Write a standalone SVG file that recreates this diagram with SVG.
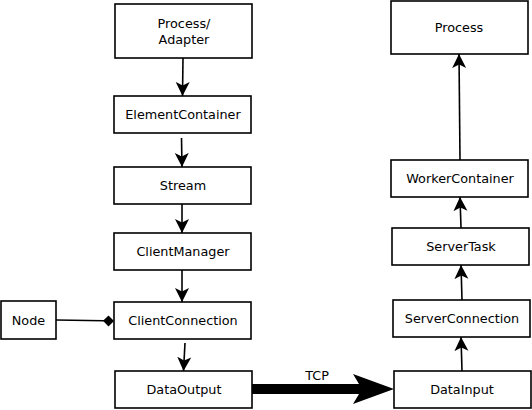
<svg xmlns="http://www.w3.org/2000/svg" width="532" height="410" viewBox="0 0 532 410">
<defs>
<style>
.box{fill:#fff;stroke:#000;stroke-width:1.6}
.lbl{font-family:"DejaVu Sans",sans-serif;font-size:12.8px;fill:#000;text-anchor:middle}
.ln{stroke:#000;stroke-width:1.6;fill:none}
</style>
<marker id="ah2" viewBox="0 0 16 16" refX="16" refY="8" markerWidth="14" markerHeight="16" markerUnits="userSpaceOnUse" orient="auto">
<path d="M0,0 L16,8 L0,16 L4,8 Z" fill="#000"/>
</marker>
</defs>
<g id="connectors">
<line class="ln" x1="183" y1="58" x2="182.5" y2="96" marker-end="url(#ah2)"/>
<line class="ln" x1="181.5" y1="138" x2="182" y2="167" marker-end="url(#ah2)"/>
<line class="ln" x1="182" y1="204" x2="182" y2="233" marker-end="url(#ah2)"/>
<line class="ln" x1="182" y1="270" x2="182" y2="302" marker-end="url(#ah2)"/>
<line class="ln" x1="185" y1="343" x2="183.5" y2="371" marker-end="url(#ah2)"/>
<line class="ln" x1="460" y1="160" x2="459" y2="54" marker-end="url(#ah2)"/>
<line class="ln" x1="461" y1="228" x2="460" y2="197" marker-end="url(#ah2)"/>
<line class="ln" x1="462" y1="300" x2="461" y2="265" marker-end="url(#ah2)"/>
<line class="ln" x1="462" y1="371" x2="461" y2="337" marker-end="url(#ah2)"/>
<line class="ln" x1="56" y1="320" x2="104" y2="320.8"/>
<path d="M103,320.8 L108.5,315.5 L114,321 L108.5,326.5 Z" fill="#000"/>
<path d="M252,384 L359,384 L353,374 L394,389 L353,404 L359,394 L252,394 Z" fill="#000"/>
<text class="lbl" x="317" y="380">TCP</text>
</g>
<g id="process-adapter"><rect class="box" x="115" y="4" width="137" height="54"/><text class="lbl" x="184" y="27.5">Process/</text><text class="lbl" x="184" y="43.5">Adapter</text></g>
<g id="element-container"><rect class="box" x="114" y="96" width="137" height="37"/><text class="lbl" x="183" y="119">ElementContainer</text></g>
<g id="stream"><rect class="box" x="114" y="167" width="137" height="37"/><text class="lbl" x="183" y="190">Stream</text></g>
<g id="client-manager"><rect class="box" x="114" y="233" width="137" height="37"/><text class="lbl" x="183" y="256">ClientManager</text></g>
<g id="client-connection"><rect class="box" x="114" y="302" width="137" height="37"/><text class="lbl" x="183" y="325">ClientConnection</text></g>
<g id="data-output"><rect class="box" x="115" y="371" width="137" height="37"/><text class="lbl" x="184" y="394">DataOutput</text></g>
<g id="node"><rect class="box" x="1" y="301" width="55" height="38"/><text class="lbl" x="28.5" y="324.5">Node</text></g>
<g id="process"><rect class="box" x="391" y="1" width="137" height="53"/><text class="lbl" x="459" y="31.5">Process</text></g>
<g id="worker-container"><rect class="box" x="391" y="160" width="137" height="37"/><text class="lbl" x="460" y="183">WorkerContainer</text></g>
<g id="server-task"><rect class="box" x="392" y="228" width="137" height="37"/><text class="lbl" x="461" y="251">ServerTask</text></g>
<g id="server-connection"><rect class="box" x="393" y="300" width="137" height="37"/><text class="lbl" x="462" y="323">ServerConnection</text></g>
<g id="data-input"><rect class="box" x="394" y="371" width="137" height="37"/><text class="lbl" x="462" y="394">DataInput</text></g>
</svg>
